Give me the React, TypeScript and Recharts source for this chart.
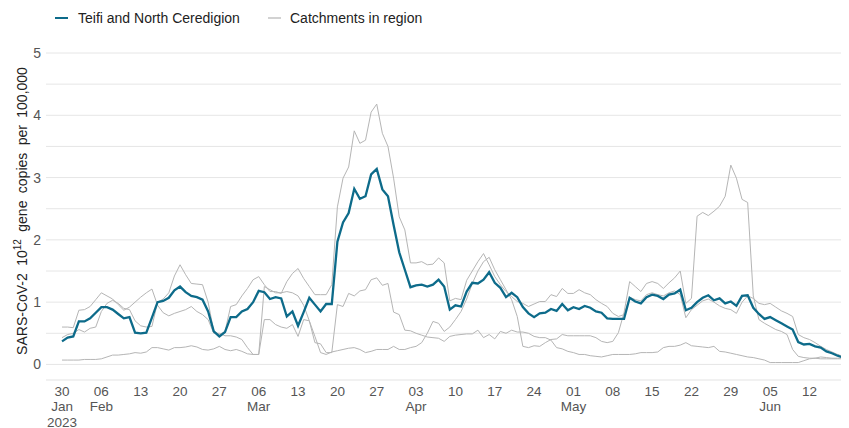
import React from 'react';
import { LineChart, Line, XAxis, YAxis, CartesianGrid } from 'recharts';

// one value per day, day 0 = 30 Jan 2023
const teifi = [
  0.37, 0.43, 0.45, 0.69, 0.69, 0.74, 0.83, 0.92, 0.92, 0.88,
  0.81, 0.74, 0.76, 0.51, 0.5, 0.51, 0.75, 1.0, 1.02, 1.07,
  1.19, 1.25, 1.16, 1.1, 1.08, 1.04, 0.85, 0.53, 0.45, 0.52,
  0.76, 0.76, 0.85, 0.89, 1.0, 1.18, 1.16, 1.05, 1.08, 1.06,
  0.77, 0.85, 0.62, 0.84, 1.07, 0.96, 0.85, 0.97, 0.97, 1.97,
  2.28, 2.43, 2.82, 2.66, 2.7, 3.05, 3.14, 2.81, 2.7, 2.24,
  1.8, 1.52, 1.24, 1.27, 1.28, 1.25, 1.28, 1.36, 1.25, 0.88,
  0.95, 0.93, 1.17, 1.31, 1.3, 1.36, 1.48, 1.31, 1.23, 1.08,
  1.15, 1.08, 0.92, 0.82, 0.76, 0.82, 0.83, 0.89, 0.86, 0.97,
  0.87, 0.92, 0.89, 0.94, 0.91, 0.85, 0.83, 0.74, 0.73, 0.73,
  0.73, 1.07, 1.01, 0.98, 1.08, 1.12, 1.1, 1.05, 1.12, 1.14,
  1.2, 0.87, 0.91, 1.0, 1.07, 1.11, 1.03, 1.06, 0.98, 1.01,
  0.94, 1.1, 1.11, 0.91, 0.81, 0.73, 0.76, 0.71, 0.66, 0.61,
  0.56, 0.36, 0.32, 0.33, 0.29, 0.27, 0.21, 0.18, 0.14, 0.11,
  0.11,
];

const catchmentA = [
  0.6, 0.6, 0.59, 0.87, 0.88, 0.93, 1.04, 1.15, 1.1, 1.05,
  0.96, 0.87, 0.92, 1.0, 1.08, 1.15, 1.21, 0.95, 0.83, 0.78,
  0.82, 0.85, 0.88, 0.93, 0.85, 0.8, 0.72, 0.5, 0.5, 0.46,
  0.46, 0.44, 0.4, 0.27, 0.16, 0.16, 1.25, 1.2, 1.15, 1.15,
  1.17, 1.15, 1.1, 0.95, 0.7, 0.35, 0.33, 0.19, 0.19, 0.96,
  0.93, 1.14, 1.1, 1.18, 1.2, 1.36, 1.39, 1.27, 1.3, 0.84,
  0.8, 0.55, 0.54, 0.5, 0.47, 0.44, 0.43, 0.42, 0.37, 0.45,
  0.47, 0.48, 0.49, 0.49, 0.55, 0.43, 0.48, 0.41, 0.53, 0.5,
  0.55, 0.52, 0.52, 0.5, 0.45, 0.43, 0.43, 0.39, 0.27, 0.25,
  0.21, 0.19, 0.16, 0.16, 0.14, 0.13, 0.12, 0.14, 0.16, 0.16,
  0.16, 0.16, 0.17, 0.19, 0.19, 0.19, 0.2, 0.27, 0.29, 0.29,
  0.31, 0.35, 0.3, 0.29, 0.28, 0.27, 0.29, 0.21, 0.2, 0.18,
  0.16, 0.14, 0.12, 0.11, 0.09, 0.07, 0.03, 0.03, 0.03, 0.03,
  0.03, 0.03, 0.06, 0.09, 0.1, 0.12, 0.11, 0.1, 0.1, 0.1,
  0.1,
];

const catchmentB = [
  0.43, 0.48, 0.5, 0.56, 0.52, 0.58, 0.6, 0.85, 0.98, 1.03,
  0.98, 0.9, 0.88, 0.7, 0.62, 0.6, 0.61, 1.0, 1.05, 1.15,
  1.42, 1.6, 1.44, 1.3, 1.29, 1.28, 1.0, 0.53, 0.48, 0.53,
  0.93, 0.96, 1.1, 1.22, 1.36, 1.41, 1.28, 1.17, 1.17, 1.14,
  1.33, 1.46, 1.54, 1.38, 1.25, 1.12, 1.12, 1.12, 1.28, 2.53,
  2.99, 3.17, 3.75, 3.55, 3.6, 4.05, 4.18, 3.71, 3.5, 2.99,
  2.37, 2.16, 1.63, 1.63, 1.65, 1.6, 1.61, 1.71, 1.63, 1.02,
  1.06, 1.04, 1.35, 1.5, 1.65, 1.78, 1.6, 1.41, 1.28, 1.17,
  1.09, 1.01, 0.98, 0.93, 0.97, 1.01, 1.01, 1.12, 1.09, 1.22,
  1.14, 1.14, 1.2, 1.15, 1.12, 1.04, 0.98, 0.93, 0.82, 0.77,
  0.8, 1.08, 1.04, 1.02, 1.12, 1.15, 1.12, 1.1, 1.15, 1.18,
  1.12, 0.75, 0.88, 0.95, 1.02, 1.05, 1.0, 0.94, 0.9, 0.88,
  0.82, 1.0, 1.1, 1.06, 0.98, 0.96, 0.98, 0.92, 0.86, 0.82,
  0.77, 0.48, 0.43, 0.4, 0.35, 0.29, 0.24, 0.2, 0.16, 0.13,
  0.12,
];

const catchmentC = [
  0.07, 0.07, 0.07, 0.07, 0.08, 0.08, 0.08, 0.09, 0.12, 0.15,
  0.15, 0.16, 0.17, 0.19, 0.18, 0.2, 0.27, 0.27, 0.25, 0.23,
  0.27, 0.27, 0.28, 0.3, 0.28, 0.24, 0.23, 0.25, 0.29, 0.24,
  0.22, 0.24, 0.21, 0.17, 0.16, 0.16, 0.72, 0.72, 0.64, 0.6,
  0.58, 0.64, 0.45, 0.72, 0.7, 0.45, 0.19, 0.16, 0.2, 0.22,
  0.24, 0.26, 0.27, 0.24, 0.19, 0.21, 0.24, 0.24, 0.24, 0.29,
  0.24, 0.24, 0.27, 0.29, 0.35, 0.5, 0.69, 0.66, 0.53, 0.6,
  0.72, 0.85, 1.05, 1.3, 1.5, 1.65, 1.72, 1.52, 1.36, 1.2,
  1.04, 0.77, 0.29, 0.27, 0.3, 0.29, 0.35, 0.4, 0.41, 0.48,
  0.46, 0.46, 0.46, 0.46, 0.46, 0.43, 0.37, 0.35, 0.37, 0.51,
  0.83, 1.33, 1.25, 1.17, 1.3, 1.33, 1.3, 1.22, 1.31, 1.39,
  1.5, 0.98, 1.06, 2.38, 2.44, 2.39, 2.46, 2.54, 2.7, 3.2,
  2.99, 2.65, 2.6, 1.1, 0.72, 0.66, 0.61, 0.56, 0.53, 0.48,
  0.24, 0.13, 0.11, 0.1, 0.1, 0.09, 0.09, 0.09, 0.09, 0.09,
  0.09,
];

const tickDays = [0, 7, 14, 21, 28, 35, 42, 49, 56, 63, 70, 77, 84, 91, 98, 105, 112, 119, 126, 133, 140];
const tickDayLabels = ['30', '06', '13', '20', '27', '06', '13', '20', '27', '03', '10', '17', '24', '01', '08', '15', '22', '29', '05', '12', '19'];
const tickMonthLabels = ['Jan', 'Feb', '', '', '', 'Mar', '', '', '', 'Apr', '', '', '', 'May', '', '', '', '', 'Jun', '', ''];
const tickYearLabels = ['2023'];
const yTicks = [0, 1, 2, 3, 4, 5];
const gridValues = [0, 0.5, 1, 1.5, 2, 2.5, 3, 3.5, 4, 4.5, 5];

const BLUE = '#0d6b8a';
const GREY = '#b5b5b5';
const FONT = '"Liberation Sans", Arial, sans-serif';

const data = teifi.map((v, i) => ({
  day: i,
  teifi: v,
  c1: catchmentA[i],
  c2: catchmentB[i],
  c3: catchmentC[i],
}));

const XTick = ({ x, y, payload }: any) => {
  const i = tickDays.indexOf(payload.value);
  if (i < 0) return null;
  return (
    <text textAnchor="middle" fill="#555" fontSize={13.5} fontFamily={FONT}>
      <tspan x={x} y={y + 15.5}>{tickDayLabels[i]}</tspan>
      {tickMonthLabels[i] ? <tspan x={x} y={y + 31}>{tickMonthLabels[i]}</tspan> : null}
      {tickYearLabels[i] ? <tspan x={x} y={y + 46.5}>{tickYearLabels[i]}</tspan> : null}
    </text>
  );
};

const YTick = ({ y, payload }: any) => (
  <text x={41} y={y + 5} textAnchor="end" fill="#555" fontSize={14} fontFamily={FONT}>
    {payload.value}
  </text>
);

const YLabel = () => (
  <text
    transform="translate(27,211) rotate(-90)"
    textAnchor="middle"
    fill="#222"
    fontSize={14}
    fontFamily={FONT}
    style={{ wordSpacing: '3.5px' }}
  >
    SARS-CoV-2 10
    <tspan dy={-6} fontSize={10}>12</tspan>
    <tspan dy={6}> gene copies per 100,000</tspan>
  </text>
);

export default function App() {
  return (
    <div style={{ position: 'relative', width: 849, height: 428, overflow: 'hidden', margin: '-8px 0 0 -8px', background: '#fff' }}>
      <LineChart width={883} height={428} data={data} margin={{ top: 53, right: 0, bottom: 0, left: 0 }}>
        <CartesianGrid vertical={false} horizontalValues={gridValues} stroke="#e6e6e6" />
        <XAxis
          dataKey="day"
          type="number"
          domain={[-2.85, 146.08]}
          ticks={tickDays}
          interval={0}
          tick={<XTick />}
          tickLine={false}
          tickSize={0}
          tickMargin={0}
          axisLine={{ stroke: '#e3e3e3' }}
          height={48}
          allowDataOverflow
        />
        <YAxis
          type="number"
          domain={[-0.25, 5]}
          ticks={yTicks}
          interval={0}
          tick={<YTick />}
          tickLine={false}
          axisLine={false}
          width={46}
          label={{ content: () => <YLabel /> }}
          allowDataOverflow
        />
        <Line type="linear" dataKey="c3" stroke={GREY} strokeWidth={1} dot={false} isAnimationActive={false} />
        <Line type="linear" dataKey="c2" stroke={GREY} strokeWidth={1} dot={false} isAnimationActive={false} />
        <Line type="linear" dataKey="c1" stroke={GREY} strokeWidth={1} dot={false} isAnimationActive={false} />
        <Line type="linear" dataKey="teifi" stroke={BLUE} strokeWidth={2.3} dot={false} isAnimationActive={false} />
      </LineChart>
      <svg width={520} height={34} style={{ position: 'absolute', left: 0, top: 0 }}>
        <line x1={55} x2={68} y1={18} y2={18} stroke={BLUE} strokeWidth={2} />
        <text x={78} y={23} fill="#222" fontSize={14} fontFamily={FONT}>Teifi and North Ceredigion</text>
        <line x1={268} x2={281} y1={18} y2={18} stroke={GREY} strokeWidth={1.2} />
        <text x={290} y={23} fill="#222" fontSize={14} fontFamily={FONT}>Catchments in region</text>
      </svg>
    </div>
  );
}
